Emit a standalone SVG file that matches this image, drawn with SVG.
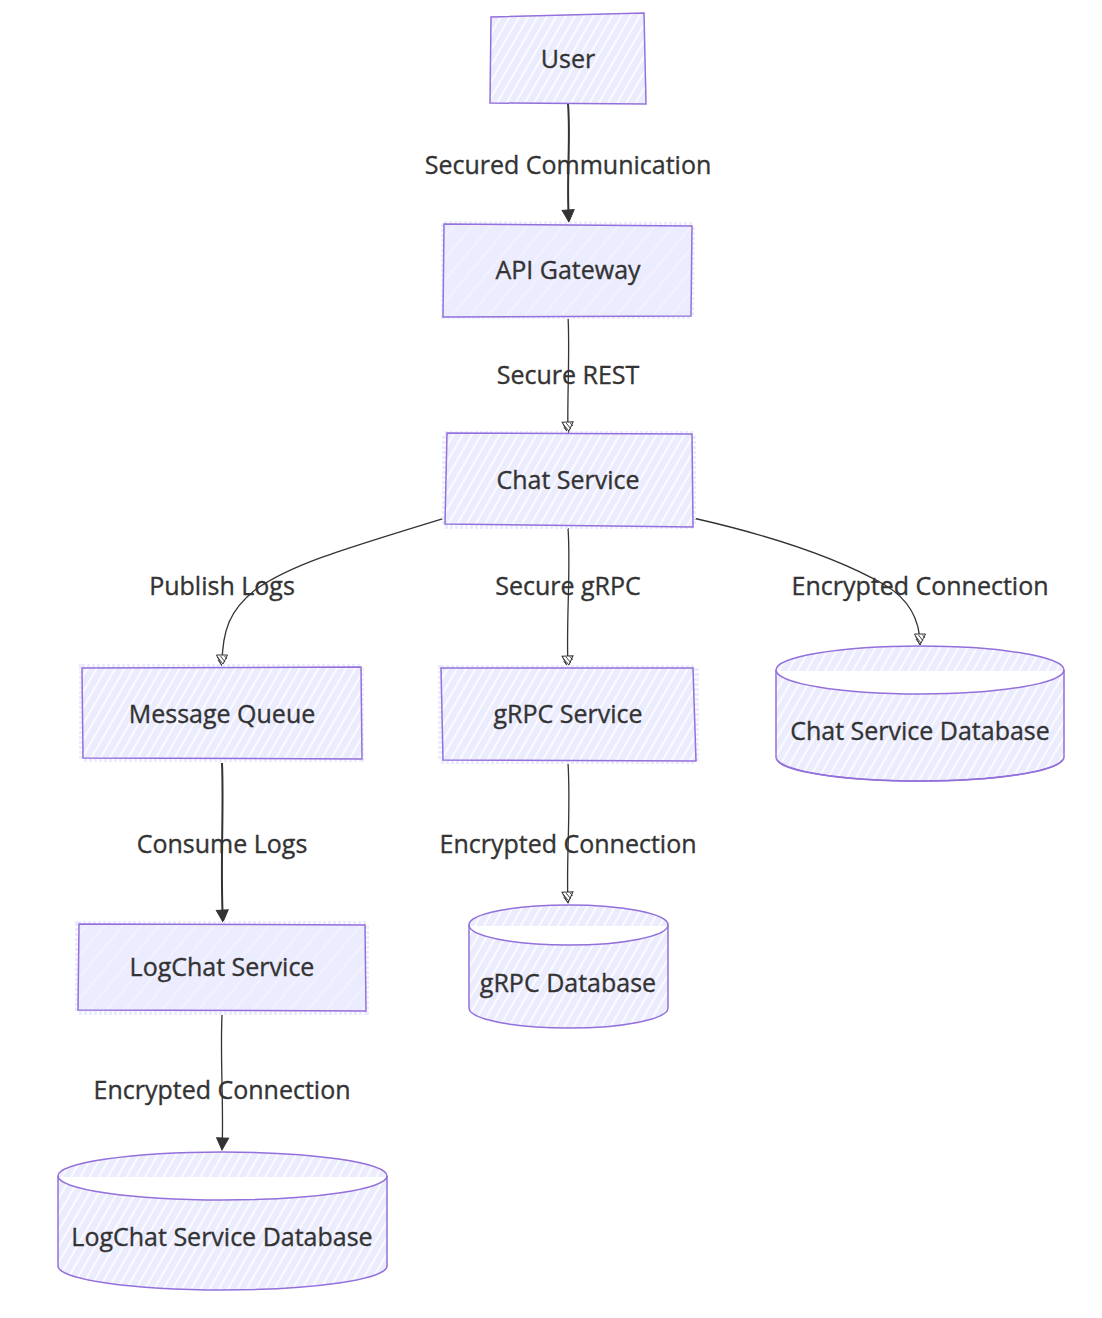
<svg xmlns="http://www.w3.org/2000/svg" width="1102" height="1318" viewBox="0 0 1102 1318">
<defs>
<pattern id="hatch" patternUnits="userSpaceOnUse" width="8" height="8" patternTransform="rotate(30)">
<rect width="8" height="8" fill="#ECECFF"/>
<line x1="2" y1="0" x2="2" y2="8" stroke="#ffffff" stroke-width="1.6"/>
</pattern>
<pattern id="hatchSoft" patternUnits="userSpaceOnUse" width="14" height="14" patternTransform="rotate(40)">
<rect width="14" height="14" fill="#ECECFF"/>
<line x1="3" y1="0" x2="3" y2="14" stroke="#ffffff" stroke-width="0.8" opacity="0.6"/>
</pattern>
<marker id="arrowSolid" markerUnits="userSpaceOnUse" markerWidth="16" markerHeight="16" refX="13" refY="7" orient="auto">
<path d="M1,1 L13,7 L1,13 Z" fill="#333333" stroke="#333333" stroke-width="1"/>
</marker>
<marker id="arrowHatch" markerUnits="userSpaceOnUse" markerWidth="16" markerHeight="16" refX="12" refY="6.5" orient="auto">
<path d="M1,1 L12,6.5 L1,12 Z" fill="#ffffff" stroke="#333333" stroke-width="1"/>
<path d="M2,4 L5,1.5 M2,8 L8,3.5 M3,11 L10,5.5 M6,10.5 L11,7" stroke="#333333" stroke-width="0.9" fill="none"/>
</marker>
</defs>
<style>
.box{stroke:#9370DB;stroke-width:1.5;}
.halo{fill:none;stroke:#ECECFF;stroke-width:6;stroke-dasharray:3 2;}
.lbl{font-family:"Open Sans","Noto Sans","Liberation Sans",sans-serif;font-size:25px;fill:#333333;stroke:#333333;stroke-width:0.35;text-anchor:middle;dominant-baseline:central;}
.edge{fill:none;stroke:#333333;stroke-width:1.3;}
.edge.thick{stroke-width:2;}
.elbl{font-family:"Open Sans","Noto Sans","Liberation Sans",sans-serif;font-size:25px;fill:#333333;stroke:#333333;stroke-width:0.35;text-anchor:middle;dominant-baseline:central;}
</style>
<rect width="1102" height="1318" fill="#ffffff"/>

<g id="edges">
<path class="edge thick" d="M568,104 C571,140 566,180 569,222" marker-end="url(#arrowSolid)"/>
<path class="edge" d="M568,316 C570,350 567,400 568,433" marker-end="url(#arrowHatch)"/>
<path class="edge" d="M445,518 C340,550 290,565 255,590 C230,610 222,630 222,666" marker-end="url(#arrowHatch)"/>
<path class="edge" d="M568,528 C571,570 566,620 568,667" marker-end="url(#arrowHatch)"/>
<path class="edge" d="M693,518 C790,540 850,565 885,585 C910,600 920,620 920,645" marker-end="url(#arrowHatch)"/>
<path class="edge thick" d="M222,763 C224,810 220,870 223,922" marker-end="url(#arrowSolid)"/>
<path class="edge" d="M568,763 C571,810 566,860 568,903" marker-end="url(#arrowHatch)"/>
<path class="edge" d="M222,1015 C220,1060 224,1110 222,1150" marker-end="url(#arrowSolid)"/>
</g>

<g id="edge-labels">
<text class="elbl" x="568" y="164">Secured Communication</text>
<text class="elbl" x="568" y="374">Secure REST</text>
<text class="elbl" x="222" y="585">Publish Logs</text>
<text class="elbl" x="568" y="585">Secure gRPC</text>
<text class="elbl" x="920" y="585">Encrypted Connection</text>
<text class="elbl" x="222" y="843">Consume Logs</text>
<text class="elbl" x="568" y="843">Encrypted Connection</text>
<text class="elbl" x="222" y="1089">Encrypted Connection</text>
</g>

<g id="node-user">
<path class="box" fill="url(#hatch)" d="M491,17 L644,13 L646,104 L490,103 Z"/>
<text class="lbl" x="568" y="58">User</text>
</g>

<g id="node-api-gateway">
<path class="halo" d="M444,224 L692,225 L691,316 L444,316 Z"/>
<path class="box" fill="url(#hatchSoft)" d="M444,224 L692,226 L691,316 L443,317 Z"/>
<text class="lbl" x="568" y="269">API Gateway</text>
</g>

<g id="node-chat-service">
<path class="halo" d="M445,434 L693,434 L693,526 L445,526 Z"/>
<path class="box" fill="url(#hatch)" d="M447,433 L692,434 L693,527 L445,524 Z"/>
<text class="lbl" x="568" y="479">Chat Service</text>
</g>

<g id="node-message-queue">
<path class="halo" d="M82,667 L361,667 L361,759 L82,759 Z"/>
<path class="box" fill="url(#hatch)" d="M82,668 L361,667 L362,759 L83,758 Z"/>
<text class="lbl" x="222" y="713">Message Queue</text>
</g>

<g id="node-grpc-service">
<path class="halo" d="M441,668 L696,668 L696,761 L441,761 Z"/>
<path class="box" fill="url(#hatch)" d="M441,668 L693,668 L696,761 L443,760 Z"/>
<text class="lbl" x="568" y="713">gRPC Service</text>
</g>

<g id="node-chat-db">
<path class="box" fill="url(#hatch)" d="M776,670 A144,24 0 0,1 1064,670 L1064,757 A144,24 0 0,1 776,757 Z"/>
<path d="M777,671 A143,23 0 0,0 1063,671 Z" fill="#ffffff"/>
<path class="box" fill="none" d="M776,670 A144,24 0 0,0 1064,670"/>
<path class="box" fill="none" d="M777,760 A143,23 0 0,0 1062,760"/>
<text class="lbl" x="920" y="730">Chat Service Database</text>
</g>

<g id="node-logchat-service">
<path class="halo" d="M78,924 L366,924 L366,1012 L78,1012 Z"/>
<path class="box" fill="url(#hatchSoft)" d="M79,924 L365,925 L366,1011 L78,1010 Z"/>
<text class="lbl" x="222" y="966">LogChat Service</text>
</g>

<g id="node-grpc-db">
<path class="box" fill="url(#hatch)" d="M469,925 A99.5,20 0 0,1 668,925 L668,1008 A99.5,20 0 0,1 469,1008 Z"/>
<path d="M470,926 A98.5,19 0 0,0 667,926 Z" fill="#ffffff"/>
<path class="box" fill="none" d="M469,925 A99.5,20 0 0,0 668,925"/>
<text class="lbl" x="568" y="982">gRPC Database</text>
</g>

<g id="node-logchat-db">
<path class="box" fill="url(#hatch)" d="M58,1176 A164.5,24 0 0,1 387,1176 L387,1266 A164.5,24 0 0,1 58,1266 Z"/>
<path d="M59,1177 A163.5,23 0 0,0 386,1177 Z" fill="#ffffff"/>
<path class="box" fill="none" d="M58,1176 A164.5,24 0 0,0 387,1176"/>
<text class="lbl" x="222" y="1236">LogChat Service Database</text>
</g>
</svg>
